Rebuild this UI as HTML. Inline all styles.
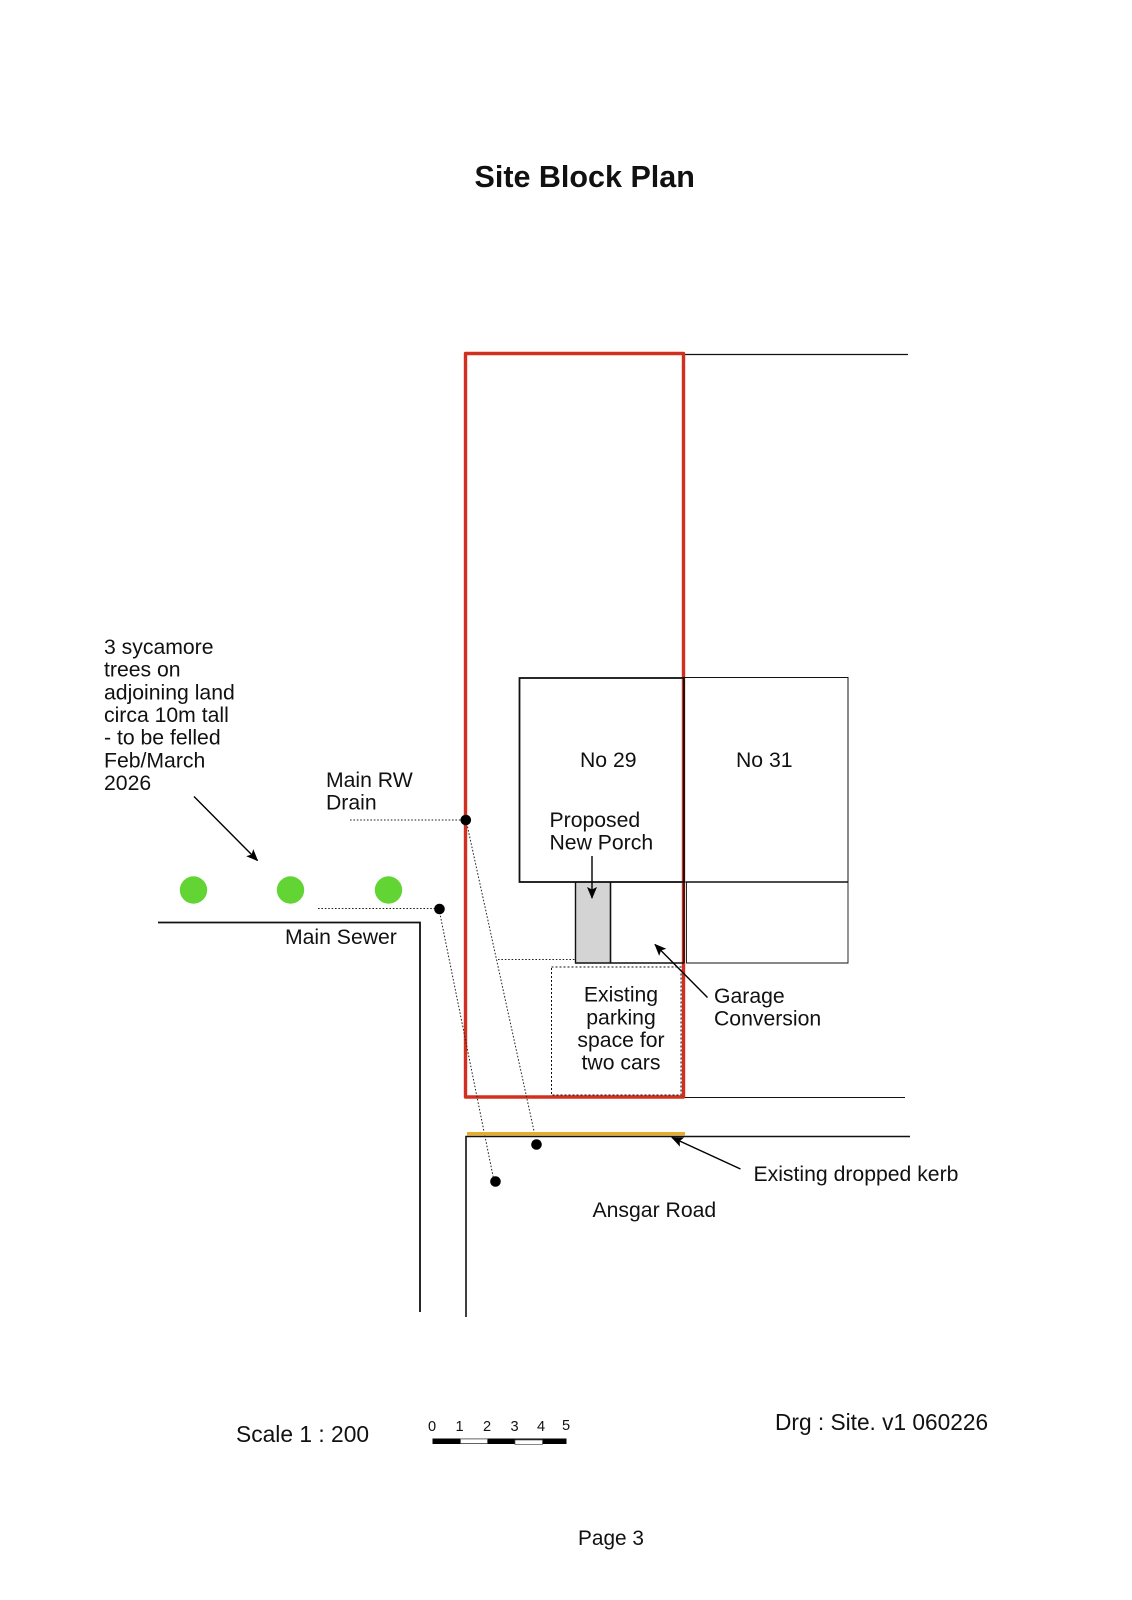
<!DOCTYPE html>
<html><head><meta charset="utf-8"><style>
html,body{margin:0;padding:0;background:#fff}
svg{display:block}
text{font-family:"Liberation Sans",Arial,sans-serif;fill:#111;font-size:21.2px}
</style></head><body>
<svg width="1132" height="1600" viewBox="0 0 1132 1600" xmlns="http://www.w3.org/2000/svg">
<defs>
<marker id="a" markerWidth="12" markerHeight="10" refX="11" refY="5" orient="auto" markerUnits="userSpaceOnUse"><path d="M0 0L12 5L0 10L2.5 5Z" fill="#000"/></marker>
</defs>
<rect width="1132" height="1600" fill="#fff"/>
<text x="474.5" y="187" style="font-size:30.5px;font-weight:bold">Site Block Plan</text>

<g fill="none" stroke="#111">
<line x1="683" y1="354.5" x2="908" y2="354.5" stroke-width="1.2"/>
<line x1="683" y1="1097.5" x2="905" y2="1097.5" stroke-width="1"/>
<path d="M910 1136.5H466V1317" stroke-width="1.6"/>
<path d="M158 922.5H420V1312" stroke-width="1.8"/>
</g>

<rect x="575.5" y="882" width="35" height="81" fill="#d4d4d4"/>
<rect x="465.5" y="353.5" width="218" height="743.5" fill="none" stroke="#d2301e" stroke-width="3.4" stroke-linejoin="round"/>

<g fill="none" stroke="#111">
<rect x="519.5" y="678" width="164.5" height="204" stroke-width="1.8"/>
<rect x="684" y="677.5" width="164" height="204.5" stroke-width="1"/>
<path d="M686.5 882V963H848V882" stroke-width="0.9"/>
<line x1="686" y1="882" x2="848" y2="882" stroke-width="1.6"/>
<line x1="684" y1="677" x2="684" y2="963" stroke-width="1.5"/>
<path d="M575.5 882V963H684" stroke-width="1.4"/>
<line x1="610.5" y1="882" x2="610.5" y2="963" stroke-width="1.6"/>
</g>

<rect x="551.5" y="967" width="129.5" height="128" fill="none" stroke="#111" stroke-width="1" stroke-dasharray="2 2"/>
<g fill="none" stroke="#222" stroke-width="1" stroke-dasharray="1.6 1.8">
<line x1="350" y1="820" x2="466" y2="820"/>
<line x1="318" y1="908.5" x2="439" y2="908.5"/>
<line x1="498" y1="959.5" x2="575" y2="959.5"/>
<line x1="466" y1="820" x2="534" y2="1131"/>
<line x1="439" y1="909" x2="494" y2="1181"/>
</g>

<rect x="467" y="1132" width="218" height="3.4" fill="#e5ad2a"/>

<g fill="#000">
<circle cx="465.8" cy="820" r="5.3"/>
<circle cx="439.5" cy="909" r="5.3"/>
<circle cx="536.5" cy="1144.5" r="5.3"/>
<circle cx="495.5" cy="1181.5" r="5.3"/>
</g>
<g fill="#62d534">
<circle cx="193.5" cy="890" r="13.7"/>
<circle cx="290.5" cy="890" r="13.7"/>
<circle cx="388.5" cy="890" r="13.7"/>
</g>

<g stroke="#000" stroke-width="1.4" fill="none" marker-end="url(#a)">
<line x1="194" y1="796.5" x2="257.5" y2="860.5"/>
<line x1="592" y1="856" x2="592" y2="898"/>
<line x1="707.5" y1="997.5" x2="655" y2="944.5"/>
<line x1="740.5" y1="1169" x2="672" y2="1137.5"/>
</g>

<text x="104" y="654">3 sycamore</text>
<text x="104" y="676.7">trees on</text>
<text x="104" y="699.4">adjoining land</text>
<text x="104" y="722">circa 10m tall</text>
<text x="104" y="744.7">- to be felled</text>
<text x="104" y="767.4">Feb/March</text>
<text x="104" y="790">2026</text>

<text x="326" y="787">Main RW</text>
<text x="326" y="809.7">Drain</text>
<text x="580" y="767">No 29</text>
<text x="736" y="767">No 31</text>
<text x="549.5" y="827">Proposed</text>
<text x="549.5" y="849.7">New Porch</text>
<text x="285" y="944">Main Sewer</text>

<g text-anchor="middle">
<text x="621" y="1001.5">Existing</text>
<text x="621" y="1024.5">parking</text>
<text x="621" y="1047">space for</text>
<text x="621" y="1069.7">two cars</text>
</g>

<text x="714" y="1003">Garage</text>
<text x="714" y="1025.7">Conversion</text>
<text x="753.5" y="1181">Existing dropped kerb</text>
<text x="592.5" y="1217">Ansgar Road</text>

<text x="236" y="1442" style="font-size:22.8px">Scale 1 : 200</text>
<text x="775" y="1430" style="font-size:22.7px">Drg : Site. v1 060226</text>
<text x="578" y="1545" style="font-size:20.8px">Page 3</text>

<g text-anchor="middle">
<text x="432" y="1431" style="font-size:14.6px">0</text>
<text x="459.5" y="1431" style="font-size:14.6px">1</text>
<text x="487" y="1431" style="font-size:14.6px">2</text>
<text x="514.5" y="1431" style="font-size:14.6px">3</text>
<text x="541" y="1431" style="font-size:14.6px">4</text>
<text x="566" y="1430" style="font-size:14.6px">5</text>
</g>
<rect x="432.5" y="1438.5" width="134" height="5.5" fill="#000"/>
<rect x="460.5" y="1439" width="27" height="4.5" fill="#fff" stroke="#555" stroke-width="0.7"/>
<rect x="515" y="1440" width="27.5" height="4.5" fill="#fff" stroke="#555" stroke-width="0.7"/>
</svg>
</body></html>
